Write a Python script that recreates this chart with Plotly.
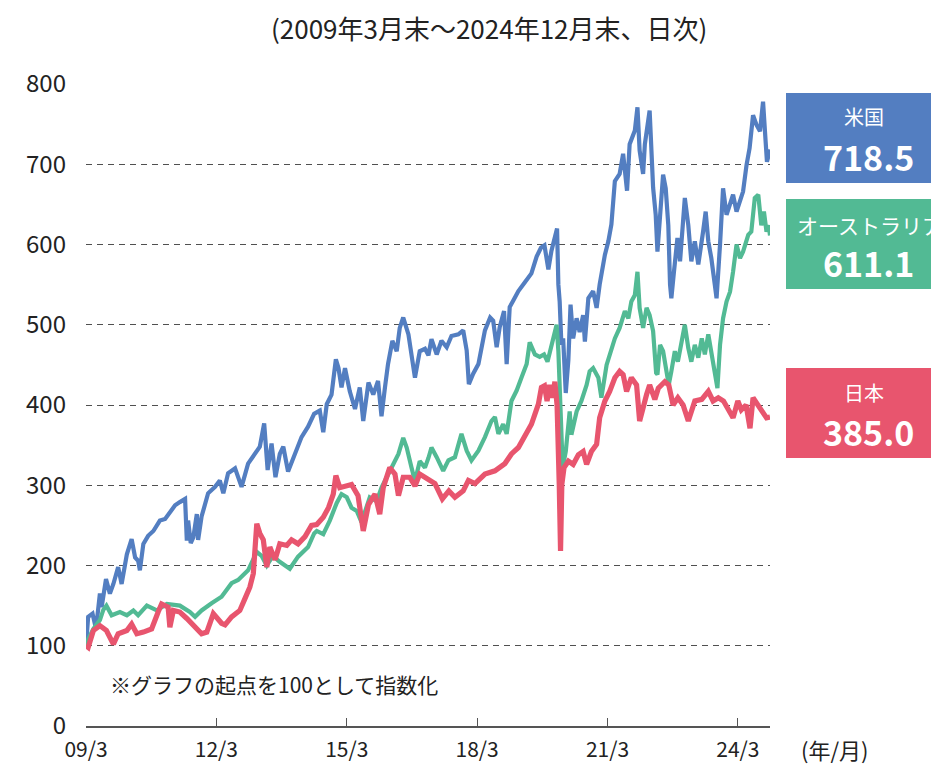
import plotly.graph_objects as go

# ---------------- data (decimal years, index: start = 100) ----------------
us_t = [2009.25, 2009.30, 2009.40, 2009.48, 2009.57, 2009.61, 2009.71, 2009.80, 2009.88, 2009.99,
        2010.07, 2010.19, 2010.30, 2010.38, 2010.45, 2010.49, 2010.57, 2010.68, 2010.80, 2010.95,
        2011.07, 2011.18, 2011.30, 2011.41, 2011.53, 2011.57, 2011.60, 2011.66, 2011.72, 2011.80,
        2011.83, 2011.91, 2012.06, 2012.22, 2012.33, 2012.41, 2012.52, 2012.68, 2012.83, 2012.98,
        2013.14, 2013.25, 2013.35, 2013.43, 2013.52, 2013.61, 2013.71, 2013.79, 2013.90, 2014.06,
        2014.21, 2014.36, 2014.50, 2014.63, 2014.71, 2014.79, 2014.90, 2015.00, 2015.06, 2015.13,
        2015.21, 2015.32, 2015.44, 2015.55, 2015.63, 2015.75, 2015.86, 2015.97, 2016.05, 2016.13,
        2016.20, 2016.30, 2016.40, 2016.47, 2016.55, 2016.67, 2016.74, 2016.82, 2016.93, 2017.05,
        2017.13, 2017.20, 2017.32, 2017.43, 2017.55, 2017.66, 2017.82, 2017.93, 2018.01, 2018.06,
        2018.16, 2018.28, 2018.43, 2018.55, 2018.62, 2018.70, 2018.77, 2018.87, 2018.93, 2019.00,
        2019.08, 2019.20, 2019.35, 2019.50, 2019.62, 2019.72, 2019.80, 2019.89, 2019.96, 2020.05,
        2020.09, 2020.12, 2020.15, 2020.19, 2020.23, 2020.29, 2020.35, 2020.40, 2020.46, 2020.54,
        2020.61, 2020.69, 2020.73, 2020.81, 2020.92, 2021.00, 2021.07, 2021.19, 2021.27, 2021.34,
        2021.42, 2021.53, 2021.61, 2021.70, 2021.76, 2021.88, 2021.94, 2021.99, 2022.07, 2022.11,
        2022.22, 2022.30, 2022.36, 2022.40, 2022.46, 2022.53, 2022.59, 2022.65, 2022.69, 2022.72,
        2022.78, 2022.86, 2022.92, 2023.03, 2023.11, 2023.18, 2023.26, 2023.34, 2023.45, 2023.51,
        2023.57, 2023.64, 2023.72, 2023.76, 2023.84, 2023.91, 2023.99, 2024.07, 2024.14, 2024.22,
        2024.30, 2024.37, 2024.45, 2024.52, 2024.60, 2024.68, 2024.76, 2024.83, 2024.89, 2024.92,
        2024.99]
us_v = [100, 136, 140, 121, 165, 148, 183, 165, 177, 198,
        177, 214, 233, 210, 206, 194, 227, 237, 243, 256,
        258, 266, 275, 279, 283, 231, 256, 228, 235, 264,
        232, 261, 290, 298, 306, 290, 315, 321, 298, 327,
        339, 348, 377, 319, 352, 310, 339, 348, 317, 339,
        360, 373, 389, 393, 366, 401, 413, 457, 446, 422,
        446, 417, 395, 422, 380, 428, 413, 430, 386, 422,
        451, 480, 467, 496, 509, 488, 463, 434, 467, 470,
        462, 482, 463, 480, 472, 486, 488, 493, 468, 426,
        439, 451, 493, 509, 505, 472, 497, 517, 451, 522,
        530, 542, 553, 564, 585, 596, 599, 569, 592, 610,
        620, 550, 529, 475, 483, 415, 456, 525, 483, 508,
        491, 512, 479, 533, 542, 521, 550, 587, 604, 625,
        679, 688, 713, 667, 725, 742, 771, 717, 688, 725,
        767, 671, 637, 591, 629, 687, 670, 624, 550, 533,
        566, 608, 579, 658, 624, 579, 604, 575, 616, 641,
        604, 583, 550, 533, 600, 670, 637, 649, 662, 641,
        654, 666, 699, 720, 761, 749, 741, 778, 728, 703,
        718.5]

au_t = [2009.25, 2009.30, 2009.42, 2009.50, 2009.57, 2009.65, 2009.72, 2009.84, 2010.03, 2010.19,
        2010.34, 2010.45, 2010.65, 2010.88, 2011.11, 2011.41, 2011.64, 2011.76, 2011.91, 2012.14,
        2012.37, 2012.60, 2012.75, 2012.98, 2013.18, 2013.29, 2013.41, 2013.55, 2013.70, 2013.94,
        2014.13, 2014.36, 2014.50, 2014.56, 2014.71, 2014.86, 2015.02, 2015.13, 2015.25, 2015.36,
        2015.48, 2015.59, 2015.67, 2015.78, 2015.94, 2016.05, 2016.17, 2016.32, 2016.44, 2016.55,
        2016.63, 2016.74, 2016.82, 2016.93, 2017.05, 2017.13, 2017.20, 2017.32, 2017.47, 2017.59,
        2017.74, 2017.89, 2018.01, 2018.12, 2018.28, 2018.43, 2018.58, 2018.66, 2018.74, 2018.85,
        2018.93, 2019.04, 2019.16, 2019.27, 2019.39, 2019.46, 2019.58, 2019.69, 2019.79, 2019.87,
        2020.00, 2020.08, 2020.12, 2020.17, 2020.22, 2020.29, 2020.38, 2020.42, 2020.54, 2020.65,
        2020.77, 2020.84, 2020.92, 2021.04, 2021.11, 2021.23, 2021.34, 2021.42, 2021.53, 2021.65,
        2021.73, 2021.80, 2021.88, 2021.94, 2021.99, 2022.07, 2022.15, 2022.22, 2022.30, 2022.37,
        2022.40, 2022.46, 2022.53, 2022.59, 2022.66, 2022.72, 2022.80, 2022.87, 2022.95, 2023.03,
        2023.11, 2023.18, 2023.26, 2023.34, 2023.42, 2023.49, 2023.57, 2023.64, 2023.72, 2023.78,
        2023.84, 2023.91, 2023.99, 2024.07, 2024.14, 2024.22, 2024.30, 2024.37, 2024.49, 2024.56,
        2024.64, 2024.72, 2024.79, 2024.85, 2024.91, 2024.96, 2024.99]
au_v = [100, 108, 121, 128, 132, 145, 150, 138, 142, 138,
        144, 138, 150, 144, 152, 150, 142, 136, 144, 153,
        161, 178, 182, 194, 217, 212, 200, 212, 205, 196,
        211, 223, 240, 243, 239, 256, 278, 289, 285, 272,
        268, 254, 266, 285, 280, 297, 310, 326, 339, 359,
        347, 322, 305, 330, 322, 334, 347, 335, 318, 331,
        335, 364, 343, 331, 343, 360, 380, 385, 364, 376,
        364, 405, 418, 434, 451, 478, 463, 460, 463, 454,
        483, 500, 467, 384, 322, 342, 392, 363, 392, 405,
        425, 442, 446, 434, 409, 450, 467, 483, 496, 517,
        508, 529, 537, 566, 521, 496, 521, 512, 492, 440,
        438, 475, 467, 446, 425, 442, 467, 454, 475, 500,
        471, 454, 475, 459, 483, 463, 488, 467, 442, 421,
        475, 508, 529, 541, 566, 600, 583, 591, 612, 616,
        658, 662, 624, 641, 616, 624, 611.1]

jp_t = [2009.25, 2009.30, 2009.42, 2009.57, 2009.72, 2009.88, 2009.99, 2010.19, 2010.30, 2010.42,
        2010.57, 2010.76, 2010.91, 2010.99, 2011.14, 2011.18, 2011.26, 2011.41, 2011.57, 2011.72,
        2011.83, 2011.91, 2012.03, 2012.18, 2012.37, 2012.45, 2012.60, 2012.79, 2012.91, 2013.02,
        2013.10, 2013.14, 2013.18, 2013.25, 2013.33, 2013.41, 2013.48, 2013.60, 2013.71, 2013.87,
        2013.98, 2014.13, 2014.29, 2014.44, 2014.56, 2014.71, 2014.83, 2014.94, 2015.00, 2015.09,
        2015.25, 2015.36, 2015.51, 2015.63, 2015.75, 2015.90, 2016.01, 2016.09, 2016.24, 2016.36,
        2016.44, 2016.55, 2016.70, 2016.82, 2016.93, 2017.05, 2017.28, 2017.45, 2017.60, 2017.74,
        2017.93, 2018.05, 2018.20, 2018.43, 2018.66, 2018.89, 2019.04, 2019.20, 2019.35, 2019.50,
        2019.66, 2019.73, 2019.80, 2019.86, 2019.92, 2019.98, 2020.04, 2020.09, 2020.14, 2020.17,
        2020.20, 2020.25, 2020.35, 2020.46, 2020.58, 2020.69, 2020.77, 2020.88, 2021.00, 2021.07,
        2021.19, 2021.30, 2021.42, 2021.53, 2021.61, 2021.69, 2021.80, 2021.92, 2021.99, 2022.07,
        2022.15, 2022.22, 2022.34, 2022.42, 2022.57, 2022.66, 2022.76, 2022.87, 2022.99, 2023.11,
        2023.26, 2023.42, 2023.57, 2023.68, 2023.80, 2023.92, 2024.03, 2024.14, 2024.25, 2024.33,
        2024.44, 2024.53, 2024.60, 2024.70, 2024.79, 2024.91, 2024.99]
jp_v = [100, 98, 119, 125, 119, 102, 115, 119, 127, 115,
        117, 121, 142, 152, 148, 123, 144, 142, 134, 125,
        119, 115, 117, 140, 128, 126, 136, 144, 159, 173,
        190, 219, 252, 240, 232, 198, 223, 207, 227, 225,
        232, 227, 236, 250, 251, 260, 272, 289, 312, 297,
        299, 301, 287, 243, 276, 289, 264, 297, 322, 314,
        287, 310, 310, 299, 314, 310, 302, 283, 293, 285,
        293, 306, 302, 314, 318, 327, 339, 347, 360, 376,
        401, 422, 424, 405, 425, 409, 429, 400, 301, 218,
        301, 322, 330, 326, 338, 342, 326, 342, 351, 384,
        405, 417, 434, 442, 438, 417, 434, 425, 380, 400,
        413, 425, 407, 421, 429, 425, 400, 409, 400, 380,
        405, 407, 417, 405, 409, 405, 394, 384, 405, 394,
        400, 371, 409, 400, 392, 384, 385.0]

series_names = ["米国", "オーストラリア", "日本"]
series_colors = ["#537EC1", "#52BA94", "#E8556E"]

x_tickvals = [2009.25, 2012.25, 2015.25, 2018.25, 2021.25, 2024.25]
x_ticktext = ["09/3", "12/3", "15/3", "18/3", "21/3", "24/3"]
y_tickvals = [0, 100, 200, 300, 400, 500, 600, 700, 800]

FONT = "Noto Sans CJK JP"
TXT = "#222222"

fig = go.Figure()
for t, v, name, col, w in [(us_t, us_v, series_names[0], series_colors[0], 4.2),
                           (au_t, au_v, series_names[1], series_colors[1], 4.2),
                           (jp_t, jp_v, series_names[2], series_colors[2], 5.2)]:
    fig.add_trace(go.Scatter(x=t, y=v, mode="lines", name=name,
                             line=dict(color=col, width=w, shape="linear"),
                             showlegend=False, hoverinfo="skip"))

# wanted plot area on screen (pixels): x 86..770, y 84..726
# the page body adds an 8px offset, so the margins are reduced by that
OFF = 8
L, R, T, B = 86, 770, 84, 726
def px(p):
    return (p - L) / (R - L)
def py(q):
    return (B - q) / (B - T)

W, H = 939, 766
fig.update_layout(
    width=W, height=H,
    margin=dict(l=L - OFF, r=W - (R - L) - (L - OFF), t=T - OFF, b=H - (B - T) - (T - OFF)),
    paper_bgcolor="white", plot_bgcolor="white",
    font=dict(family=FONT, color=TXT, size=20),
)
fig.update_xaxes(range=[2009.25, 2024.99], tickvals=x_tickvals, ticktext=x_ticktext,
                 showgrid=False, zeroline=False, showline=True, linecolor="#555555",
                 linewidth=1.5, ticks="inside", ticklen=8, tickwidth=1.2, tickcolor="#555555",
                 ticklabelstandoff=4,
                 tickfont=dict(size=21, family=FONT, color=TXT))
fig.update_yaxes(range=[0, 800], tickvals=y_tickvals, showgrid=True, gridcolor="#505050",
                 gridwidth=1, griddash="6px,5px", zeroline=False, showline=False,
                 ticks="", ticklabelstandoff=19,
                 tickfont=dict(size=24, family=FONT, color=TXT))

ann = []
ann.append(dict(text="(2009年3月末～2024年12月末、日次)", x=px(489), y=py(27),
                xref="paper", yref="paper", showarrow=False, xanchor="center", yanchor="middle",
                font=dict(size=26, family=FONT, color=TXT)))
ann.append(dict(text="※グラフの起点を100として指数化", x=px(108), y=py(684),
                xref="paper", yref="paper", showarrow=False, xanchor="left", yanchor="middle",
                font=dict(size=21, family=FONT, color=TXT)))
ann.append(dict(text="(年/月)", x=px(835), y=py(749),
                xref="paper", yref="paper", showarrow=False, xanchor="center", yanchor="middle",
                font=dict(size=22, family=FONT, color=TXT)))

boxes = [(93, 183), (199, 289), (368, 458)]
shapes = []
last_vals = [us_v[-1], au_v[-1], jp_v[-1]]
for (top, bot), name, col, val in zip(boxes, series_names, series_colors, last_vals):
    shapes.append(dict(type="rect", xref="paper", yref="paper",
                       x0=px(786), x1=px(950), y0=py(bot), y1=py(top),
                       fillcolor=col, line=dict(width=0), layer="above"))
    if len(name) > 3:
        ann.append(dict(text=name, x=px(795), y=py(top + 26), xref="paper", yref="paper",
                        showarrow=False, xanchor="left", yanchor="middle",
                        font=dict(size=21, family=FONT, color="white")))
    else:
        ann.append(dict(text=name, x=px(864), y=py(top + 24), xref="paper", yref="paper",
                        showarrow=False, xanchor="center", yanchor="middle",
                        font=dict(size=20, family=FONT, color="white")))
    ann.append(dict(text="<b>%.1f</b>" % val, x=px(868), y=py(top + 63), xref="paper", yref="paper",
                    showarrow=False, xanchor="center", yanchor="middle",
                    font=dict(size=34, family=FONT, color="white")))

fig.update_layout(annotations=ann, shapes=shapes)
fig.write_html("out.html")
